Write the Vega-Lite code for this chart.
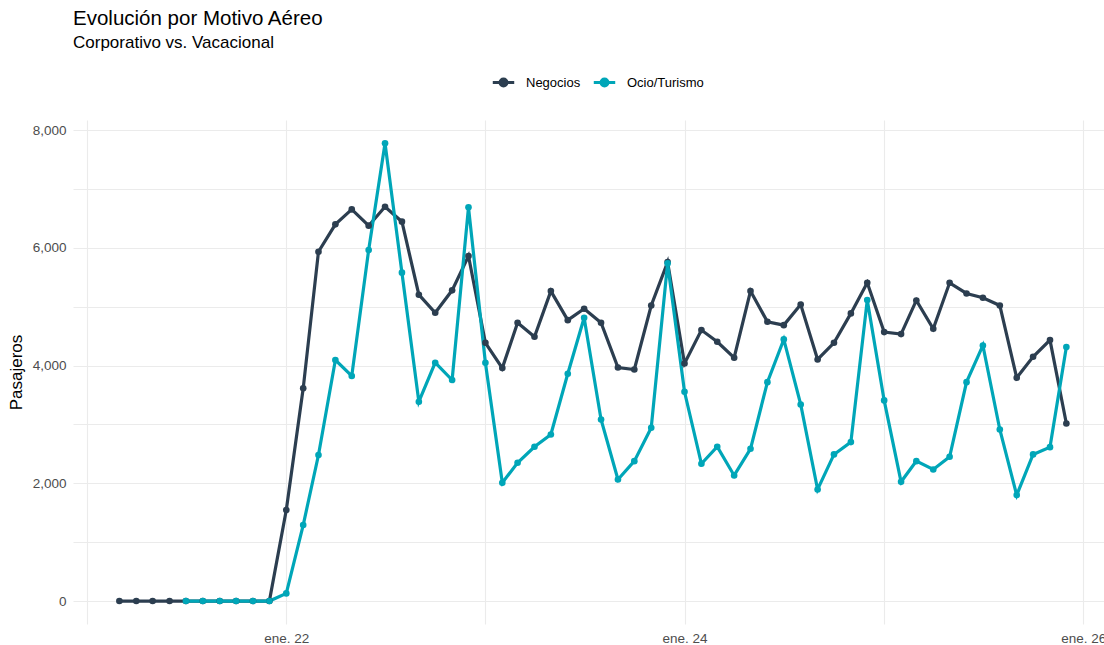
{
  "$schema": "https://vega.github.io/schema/vega-lite/v6.json",
  "width": 1031,
  "height": 504,
  "autosize": {"type": "none"},
  "padding": {"left": 73, "top": 120, "right": 0, "bottom": 21},
  "background": "white",
  "title": {
    "text": "Evolución por Motivo Aéreo",
    "subtitle": "Corporativo vs. Vacacional",
    "anchor": "start",
    "frame": "group",
    "offset": 19,
    "font": "Liberation Sans",
    "fontSize": 20.5,
    "fontWeight": "normal",
    "color": "#000000",
    "subtitleFont": "Liberation Sans",
    "subtitleFontSize": 17,
    "subtitleColor": "#000000",
    "subtitlePadding": 6
  },
  "data": {
    "values": [
      {"fecha": "2021-03-01", "motivo": "Negocios", "pasajeros": 0},
      {"fecha": "2021-04-01", "motivo": "Negocios", "pasajeros": 0},
      {"fecha": "2021-05-01", "motivo": "Negocios", "pasajeros": 0},
      {"fecha": "2021-06-01", "motivo": "Negocios", "pasajeros": 0},
      {"fecha": "2021-07-01", "motivo": "Negocios", "pasajeros": 0},
      {"fecha": "2021-08-01", "motivo": "Negocios", "pasajeros": 0},
      {"fecha": "2021-09-01", "motivo": "Negocios", "pasajeros": 0},
      {"fecha": "2021-10-01", "motivo": "Negocios", "pasajeros": 0},
      {"fecha": "2021-11-01", "motivo": "Negocios", "pasajeros": 0},
      {"fecha": "2021-12-01", "motivo": "Negocios", "pasajeros": 0},
      {"fecha": "2022-01-01", "motivo": "Negocios", "pasajeros": 1546},
      {"fecha": "2022-02-01", "motivo": "Negocios", "pasajeros": 3613},
      {"fecha": "2022-03-01", "motivo": "Negocios", "pasajeros": 5933},
      {"fecha": "2022-04-01", "motivo": "Negocios", "pasajeros": 6398},
      {"fecha": "2022-05-01", "motivo": "Negocios", "pasajeros": 6652},
      {"fecha": "2022-06-01", "motivo": "Negocios", "pasajeros": 6375},
      {"fecha": "2022-07-01", "motivo": "Negocios", "pasajeros": 6697},
      {"fecha": "2022-08-01", "motivo": "Negocios", "pasajeros": 6443},
      {"fecha": "2022-09-01", "motivo": "Negocios", "pasajeros": 5203},
      {"fecha": "2022-10-01", "motivo": "Negocios", "pasajeros": 4897},
      {"fecha": "2022-11-01", "motivo": "Negocios", "pasajeros": 5277},
      {"fecha": "2022-12-01", "motivo": "Negocios", "pasajeros": 5860},
      {"fecha": "2023-01-01", "motivo": "Negocios", "pasajeros": 4386},
      {"fecha": "2023-02-01", "motivo": "Negocios", "pasajeros": 3956},
      {"fecha": "2023-03-01", "motivo": "Negocios", "pasajeros": 4726},
      {"fecha": "2023-04-01", "motivo": "Negocios", "pasajeros": 4488},
      {"fecha": "2023-05-01", "motivo": "Negocios", "pasajeros": 5264},
      {"fecha": "2023-06-01", "motivo": "Negocios", "pasajeros": 4771},
      {"fecha": "2023-07-01", "motivo": "Negocios", "pasajeros": 4964},
      {"fecha": "2023-08-01", "motivo": "Negocios", "pasajeros": 4726},
      {"fecha": "2023-09-01", "motivo": "Negocios", "pasajeros": 3967},
      {"fecha": "2023-10-01", "motivo": "Negocios", "pasajeros": 3933},
      {"fecha": "2023-11-01", "motivo": "Negocios", "pasajeros": 5020},
      {"fecha": "2023-12-01", "motivo": "Negocios", "pasajeros": 5757},
      {"fecha": "2024-01-01", "motivo": "Negocios", "pasajeros": 4035},
      {"fecha": "2024-02-01", "motivo": "Negocios", "pasajeros": 4602},
      {"fecha": "2024-03-01", "motivo": "Negocios", "pasajeros": 4403},
      {"fecha": "2024-04-01", "motivo": "Negocios", "pasajeros": 4132},
      {"fecha": "2024-05-01", "motivo": "Negocios", "pasajeros": 5264},
      {"fecha": "2024-06-01", "motivo": "Negocios", "pasajeros": 4743},
      {"fecha": "2024-07-01", "motivo": "Negocios", "pasajeros": 4686},
      {"fecha": "2024-08-01", "motivo": "Negocios", "pasajeros": 5037},
      {"fecha": "2024-09-01", "motivo": "Negocios", "pasajeros": 4103},
      {"fecha": "2024-10-01", "motivo": "Negocios", "pasajeros": 4386},
      {"fecha": "2024-11-01", "motivo": "Negocios", "pasajeros": 4885},
      {"fecha": "2024-12-01", "motivo": "Negocios", "pasajeros": 5405},
      {"fecha": "2025-01-01", "motivo": "Negocios", "pasajeros": 4568},
      {"fecha": "2025-02-01", "motivo": "Negocios", "pasajeros": 4534},
      {"fecha": "2025-03-01", "motivo": "Negocios", "pasajeros": 5105},
      {"fecha": "2025-04-01", "motivo": "Negocios", "pasajeros": 4624},
      {"fecha": "2025-05-01", "motivo": "Negocios", "pasajeros": 5405},
      {"fecha": "2025-06-01", "motivo": "Negocios", "pasajeros": 5224},
      {"fecha": "2025-07-01", "motivo": "Negocios", "pasajeros": 5151},
      {"fecha": "2025-08-01", "motivo": "Negocios", "pasajeros": 5020},
      {"fecha": "2025-09-01", "motivo": "Negocios", "pasajeros": 3792},
      {"fecha": "2025-10-01", "motivo": "Negocios", "pasajeros": 4149},
      {"fecha": "2025-11-01", "motivo": "Negocios", "pasajeros": 4432},
      {"fecha": "2025-12-01", "motivo": "Negocios", "pasajeros": 3016},
      {"fecha": "2021-07-01", "motivo": "Ocio/Turismo", "pasajeros": 0},
      {"fecha": "2021-08-01", "motivo": "Ocio/Turismo", "pasajeros": 0},
      {"fecha": "2021-09-01", "motivo": "Ocio/Turismo", "pasajeros": 0},
      {"fecha": "2021-10-01", "motivo": "Ocio/Turismo", "pasajeros": 0},
      {"fecha": "2021-11-01", "motivo": "Ocio/Turismo", "pasajeros": 0},
      {"fecha": "2021-12-01", "motivo": "Ocio/Turismo", "pasajeros": 0},
      {"fecha": "2022-01-01", "motivo": "Ocio/Turismo", "pasajeros": 130},
      {"fecha": "2022-02-01", "motivo": "Ocio/Turismo", "pasajeros": 1291},
      {"fecha": "2022-03-01", "motivo": "Ocio/Turismo", "pasajeros": 2480},
      {"fecha": "2022-04-01", "motivo": "Ocio/Turismo", "pasajeros": 4093},
      {"fecha": "2022-05-01", "motivo": "Ocio/Turismo", "pasajeros": 3822},
      {"fecha": "2022-06-01", "motivo": "Ocio/Turismo", "pasajeros": 5962},
      {"fecha": "2022-07-01", "motivo": "Ocio/Turismo", "pasajeros": 7774},
      {"fecha": "2022-08-01", "motivo": "Ocio/Turismo", "pasajeros": 5577},
      {"fecha": "2022-09-01", "motivo": "Ocio/Turismo", "pasajeros": 3385},
      {"fecha": "2022-10-01", "motivo": "Ocio/Turismo", "pasajeros": 4048},
      {"fecha": "2022-11-01", "motivo": "Ocio/Turismo", "pasajeros": 3754},
      {"fecha": "2022-12-01", "motivo": "Ocio/Turismo", "pasajeros": 6687},
      {"fecha": "2023-01-01", "motivo": "Ocio/Turismo", "pasajeros": 4047},
      {"fecha": "2023-02-01", "motivo": "Ocio/Turismo", "pasajeros": 2008},
      {"fecha": "2023-03-01", "motivo": "Ocio/Turismo", "pasajeros": 2348},
      {"fecha": "2023-04-01", "motivo": "Ocio/Turismo", "pasajeros": 2620},
      {"fecha": "2023-05-01", "motivo": "Ocio/Turismo", "pasajeros": 2829},
      {"fecha": "2023-06-01", "motivo": "Ocio/Turismo", "pasajeros": 3860},
      {"fecha": "2023-07-01", "motivo": "Ocio/Turismo", "pasajeros": 4811},
      {"fecha": "2023-08-01", "motivo": "Ocio/Turismo", "pasajeros": 3084},
      {"fecha": "2023-09-01", "motivo": "Ocio/Turismo", "pasajeros": 2065},
      {"fecha": "2023-10-01", "motivo": "Ocio/Turismo", "pasajeros": 2376},
      {"fecha": "2023-11-01", "motivo": "Ocio/Turismo", "pasajeros": 2943},
      {"fecha": "2023-12-01", "motivo": "Ocio/Turismo", "pasajeros": 5734},
      {"fecha": "2024-01-01", "motivo": "Ocio/Turismo", "pasajeros": 3554},
      {"fecha": "2024-02-01", "motivo": "Ocio/Turismo", "pasajeros": 2331},
      {"fecha": "2024-03-01", "motivo": "Ocio/Turismo", "pasajeros": 2620},
      {"fecha": "2024-04-01", "motivo": "Ocio/Turismo", "pasajeros": 2133},
      {"fecha": "2024-05-01", "motivo": "Ocio/Turismo", "pasajeros": 2586},
      {"fecha": "2024-06-01", "motivo": "Ocio/Turismo", "pasajeros": 3718},
      {"fecha": "2024-07-01", "motivo": "Ocio/Turismo", "pasajeros": 4443},
      {"fecha": "2024-08-01", "motivo": "Ocio/Turismo", "pasajeros": 3339},
      {"fecha": "2024-09-01", "motivo": "Ocio/Turismo", "pasajeros": 1895},
      {"fecha": "2024-10-01", "motivo": "Ocio/Turismo", "pasajeros": 2490},
      {"fecha": "2024-11-01", "motivo": "Ocio/Turismo", "pasajeros": 2699},
      {"fecha": "2024-12-01", "motivo": "Ocio/Turismo", "pasajeros": 5111},
      {"fecha": "2025-01-01", "motivo": "Ocio/Turismo", "pasajeros": 3407},
      {"fecha": "2025-02-01", "motivo": "Ocio/Turismo", "pasajeros": 2025},
      {"fecha": "2025-03-01", "motivo": "Ocio/Turismo", "pasajeros": 2376},
      {"fecha": "2025-04-01", "motivo": "Ocio/Turismo", "pasajeros": 2235},
      {"fecha": "2025-05-01", "motivo": "Ocio/Turismo", "pasajeros": 2450},
      {"fecha": "2025-06-01", "motivo": "Ocio/Turismo", "pasajeros": 3718},
      {"fecha": "2025-07-01", "motivo": "Ocio/Turismo", "pasajeros": 4341},
      {"fecha": "2025-08-01", "motivo": "Ocio/Turismo", "pasajeros": 2914},
      {"fecha": "2025-09-01", "motivo": "Ocio/Turismo", "pasajeros": 1799},
      {"fecha": "2025-10-01", "motivo": "Ocio/Turismo", "pasajeros": 2490},
      {"fecha": "2025-11-01", "motivo": "Ocio/Turismo", "pasajeros": 2614},
      {"fecha": "2025-12-01", "motivo": "Ocio/Turismo", "pasajeros": 4313}
    ]
  },
  "encoding": {
    "x": {
      "field": "fecha",
      "type": "temporal",
      "title": null,
      "scale": {
        "type": "utc",
        "nice": false,
        "domain": [
          {"year": 2020, "month": 12, "date": 6, "utc": true},
          {"year": 2026, "month": 2, "date": 8, "utc": true}
        ]
      },
      "axis": {
        "values": [
          {"year": 2021, "month": 1, "date": 1, "utc": true},
          {"year": 2022, "month": 1, "date": 1, "utc": true},
          {"year": 2023, "month": 1, "date": 1, "utc": true},
          {"year": 2024, "month": 1, "date": 1, "utc": true},
          {"year": 2025, "month": 1, "date": 1, "utc": true},
          {"year": 2026, "month": 1, "date": 1, "utc": true}
        ],
        "labelExpr": "utcyear(datum.value) % 2 == 0 ? 'ene. ' + utcFormat(datum.value, '%y') : ''",
        "labelPadding": 7,
        "labelOverlap": false,
        "labelFlush": false
      }
    },
    "y": {
      "field": "pasajeros",
      "type": "quantitative",
      "title": "Pasajeros",
      "scale": {"domain": [-390, 8170], "nice": false, "zero": false},
      "axis": {
        "values": [0, 1000, 2000, 3000, 4000, 5000, 6000, 7000, 8000],
        "labelExpr": "datum.value % 2000 == 0 ? format(datum.value, ',') : ''",
        "labelPadding": 7,
        "titlePadding": 7
      }
    },
    "color": {
      "field": "motivo",
      "type": "nominal",
      "scale": {"domain": ["Negocios", "Ocio/Turismo"], "range": ["#2C3E50", "#00A6B8"]},
      "legend": {
        "title": null,
        "orient": "none",
        "direction": "horizontal",
        "legendX": 418,
        "legendY": -50,
        "padding": 0,
        "symbolType": "M-1,0H1M-0.32,0A0.32,0.32 0 1,0 0.32,0A0.32,0.32 0 1,0 -0.32,0Z",
        "symbolSize": 460,
        "symbolStrokeWidth": 3,
        "labelOffset": 10,
        "columnPadding": 6,
        "labelFont": "Liberation Sans",
        "labelFontSize": 13,
        "labelColor": "#000000",
        "encode": {
          "symbols": {
            "update": {
              "fill": {"scale": "color", "field": "value"},
              "stroke": {"scale": "color", "field": "value"},
              "strokeWidth": {"value": 3},
              "opacity": {"value": 1}
            }
          }
        }
      }
    }
  },
  "layer": [
    {"mark": {"type": "line", "strokeWidth": 3.2}},
    {"mark": {"type": "point", "filled": true, "size": 44, "opacity": 1}}
  ],
  "config": {
    "view": {"stroke": null},
    "font": "Liberation Sans",
    "axis": {
      "domain": false,
      "ticks": false,
      "grid": true,
      "gridColor": "#EBEBEB",
      "gridWidth": 1.1,
      "labelFont": "Liberation Sans",
      "labelFontSize": 13.5,
      "labelColor": "#4D4D4D",
      "titleFont": "Liberation Sans",
      "titleFontSize": 17,
      "titleFontWeight": "normal",
      "titleColor": "#000000"
    }
  }
}
